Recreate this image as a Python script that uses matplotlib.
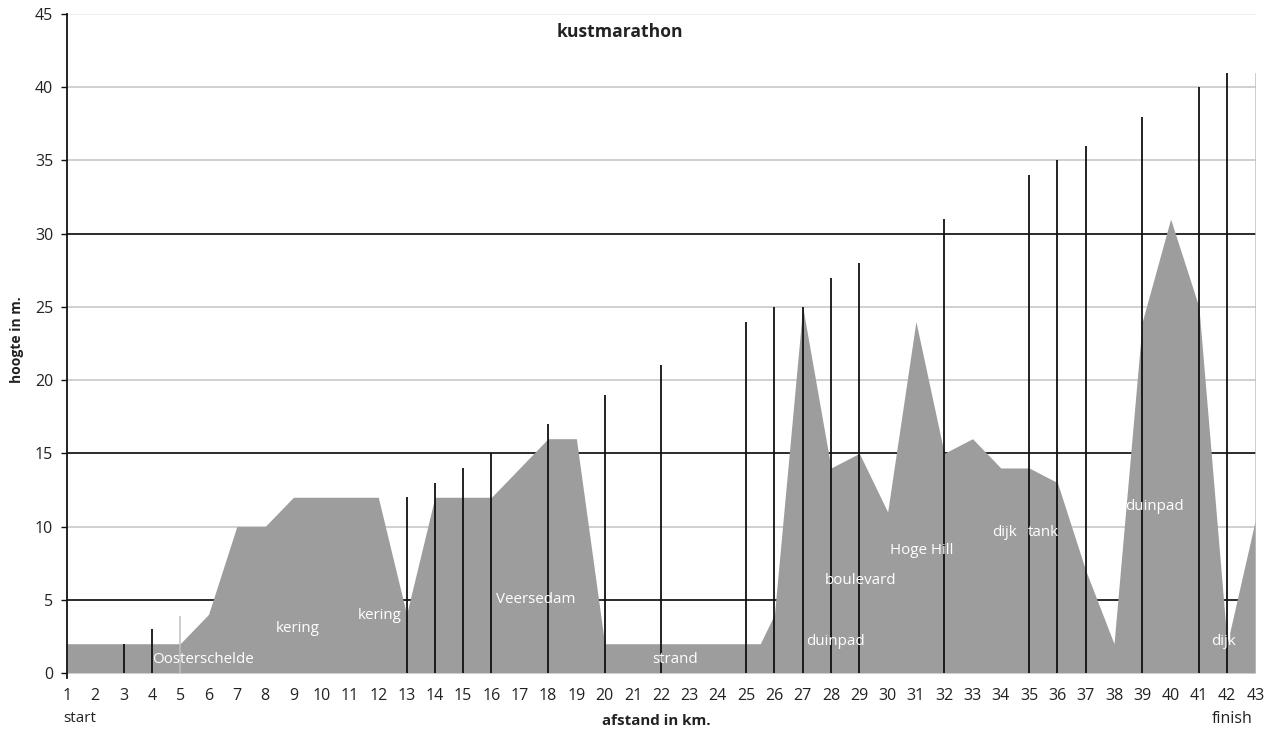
import matplotlib
matplotlib.use("Agg")
import matplotlib.pyplot as plt

plt.rcParams['font.family'] = ['Open Sans', 'DejaVu Sans']

# Elevation profile (km, height in m)
profile_km = [1, 5, 6, 7, 8, 9, 12, 13, 14, 16, 17, 18, 19, 20, 25.5, 26, 27, 28, 29,
              30, 31, 32, 33, 34, 35, 36, 37, 38, 39, 40, 41, 42, 43]
profile_m = [2, 2, 4, 10, 10, 12, 12, 4, 12, 12, 14, 16, 16, 2, 2, 4, 25, 14, 15,
             11, 24, 15, 16, 14, 14, 13, 7, 2, 24, 31, 25, 2, 10.5]

# Black marker lines (km, height)
marker_km = [3, 4, 13, 14, 15, 16, 18, 20, 22, 25, 26, 27, 28, 29, 32, 35, 36, 37, 39, 41, 42]
marker_m = [2, 3, 12, 13, 14, 15, 17, 19, 21, 24, 25, 25, 27, 28, 31, 34, 35, 36, 38, 40, 41]

# Grey marker lines
grey_km = [5, 43]
grey_m = [3.9, 41]

# Place-name labels (text, km, height)
label_text = ["Oosterschelde", "kering", "kering", "Veersedam", "strand", "duinpad",
              "boulevard", "Hoge Hill", "dijk", "tank", "duinpad", "dijk"]
label_km = [4.0, 9.16, 12.05, 17.56, 22.5, 28.17, 29.04, 31.19, 34.12, 35.52, 39.42, 41.87]
label_m = [0.92, 3.04, 3.93, 5.0, 0.92, 2.15, 6.35, 8.37, 9.6, 9.6, 11.4, 2.15]
label_ha = ["left"] + ["center"] * 11

x_ticks = list(range(1, 44))
y_ticks = [0, 5, 10, 15, 20, 25, 30, 35, 40, 45]
dark_grid = [5, 15, 30]

fig = plt.figure(figsize=(12.75, 7.35), dpi=100)
ax = fig.add_axes([67 / 1275, 1 - 673 / 735, (1255.5 - 67) / 1275, (673 - 14) / 735])

# gridlines
for yv in y_ticks[1:]:
    if yv in dark_grid:
        ax.axhline(yv, color="#1a1a1a", lw=1.3, zorder=1)
    elif yv == 45:
        ax.axhline(yv, color="#eeeeee", lw=1.2, zorder=1)
    else:
        ax.axhline(yv, color="#c4c4c4", lw=1.1, zorder=1)

ax.fill_between(profile_km, 0, profile_m, color="#9d9d9d", lw=0, zorder=2)

ax.vlines(marker_km, -0.35, marker_m, color="#111111", lw=1.3, zorder=3)
ax.vlines(grey_km, 0, grey_m, color="#c0c0c0", lw=1.1, zorder=3)

for t, xk, ym, ha in zip(label_text, label_km, label_m, label_ha):
    ax.text(xk, ym, t, color="white", fontsize=10.9, ha=ha, va="center", zorder=4)

ax.set_xlim(1, 43)
ax.set_ylim(0, 45)
ax.set_xticks(x_ticks)
ax.set_xticklabels([str(v) for v in x_ticks], fontsize=11.5, color="#222222")
ax.tick_params(axis="x", length=0, pad=10.5)
ax.set_yticks(y_ticks)
ax.set_yticklabels([str(v) for v in y_ticks], fontsize=11.5, color="#222222")
ax.tick_params(axis="y", length=4, width=1, color="#111111", pad=6)

for s in ["top", "right", "bottom"]:
    ax.spines[s].set_visible(False)
ax.spines["left"].set_color("#111111")
ax.spines["left"].set_linewidth(1.3)
ax.spines["left"].set_bounds(-0.35, 45)

fig.text(620 / 1275, 1 - 32 / 735, "kustmarathon", fontsize=12.6, fontweight="bold",
         ha="center", va="center", color="#222222")
fig.text(656 / 1275, 1 - 721 / 735, "afstand in km.", fontsize=10.9, fontweight="bold",
         ha="center", va="center", color="#222222")
fig.text(63 / 1275, 1 - 719 / 735, "start", fontsize=11, ha="left", va="center", color="#222222")
fig.text(1232 / 1275, 1 - 719 / 735, "finish", fontsize=11.5, ha="center", va="center", color="#222222")
fig.text(17 / 1275, 1 - 340 / 735, "hoogte in m.", fontsize=10, fontweight="bold",
         rotation=90, ha="center", va="center", color="#222222")

fig.savefig("out.png", dpi=100, facecolor="white")
